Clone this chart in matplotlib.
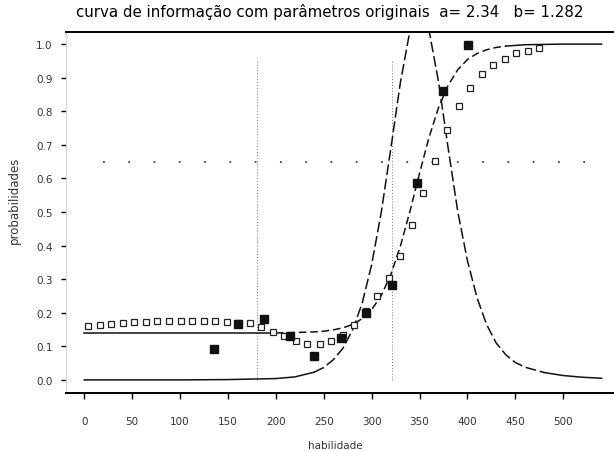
import numpy as np
import matplotlib
matplotlib.use("Agg")
from matplotlib import pyplot as plt

# open squares: observed proportions
obs_x = [4, 16, 28, 40, 52, 64, 76, 89, 101, 113, 125, 137, 149, 161, 173, 185, 197, 209, 221, 233,
         246, 258, 270, 282, 294, 306, 318, 330, 342, 354, 366, 379, 391, 403, 415, 427, 439, 451, 463, 475]
obs_y = [0.162, 0.165, 0.167, 0.170, 0.172, 0.173, 0.174, 0.174, 0.174, 0.174, 0.174, 0.174, 0.172, 0.170,
         0.168, 0.158, 0.143, 0.130, 0.115, 0.107, 0.108, 0.115, 0.133, 0.164, 0.205, 0.250, 0.303, 0.370,
         0.460, 0.558, 0.652, 0.745, 0.815, 0.868, 0.911, 0.937, 0.957, 0.972, 0.979, 0.987]

# filled squares
grp_x = [135, 161, 188, 215, 240, 268, 294, 321, 347, 374, 401]
grp_y = [0.092, 0.167, 0.182, 0.132, 0.071, 0.124, 0.199, 0.283, 0.586, 0.860, 0.997]

# item characteristic curve (a= 2.34, b= 1.282)
icc_x = [0, 100, 150, 200, 220, 240, 250, 260, 270, 280, 290, 300, 310, 320, 330, 340, 350, 360,
         370, 380, 390, 400, 410, 420, 430, 440, 460, 480, 500, 540]
icc_y = [0.140, 0.140, 0.140, 0.140, 0.141, 0.143, 0.145, 0.149, 0.155, 0.165, 0.182, 0.209, 0.251,
         0.313, 0.398, 0.502, 0.615, 0.723, 0.812, 0.878, 0.924, 0.954, 0.972, 0.983, 0.990, 0.994,
         0.998, 0.999, 1.000, 1.000]

# information curve
info_x = [0, 100, 150, 200, 220, 240, 250, 260, 270, 280, 290, 300, 310, 320, 330, 340, 345, 350,
          355, 360, 370, 380, 390, 400, 410, 420, 430, 440, 450, 460, 480, 500, 520, 540]
info_y = [0.000, 0.000, 0.001, 0.004, 0.009, 0.023, 0.037, 0.060, 0.094, 0.148, 0.227, 0.343, 0.498,
          0.688, 0.885, 1.040, 1.085, 1.100, 1.085, 1.040, 0.885, 0.688, 0.500, 0.355, 0.245, 0.165,
          0.110, 0.075, 0.052, 0.038, 0.022, 0.013, 0.008, 0.005]

vlines_x = [180, 321]
anchor_y = 0.65

x_ticks = [0, 50, 100, 150, 200, 250, 300, 350, 400, 450, 500]
y_ticks = [0.0, 0.1, 0.2, 0.3, 0.4, 0.5, 0.6, 0.7, 0.8, 0.9, 1.0]

title = "curva de informação com parâmetros originais  a= 2.34   b= 1.282"


def draw_curve(ax, xs, ys, lo, hi, dashes):
    # flat ends look solid in the original, the steep middle is dashed
    xs = np.array(xs)
    ys = np.array(ys)
    left = xs <= lo
    right = xs >= hi
    mid = (xs >= lo) & (xs <= hi)
    ax.plot(xs[left], ys[left], color="#111111", lw=1.1)
    ax.plot(xs[right], ys[right], color="#111111", lw=1.1)
    ax.plot(xs[mid], ys[mid], color="#111111", lw=1.1, dashes=dashes)


fig = plt.figure(figsize=(6.14, 4.52), dpi=100)
ax = fig.add_axes([0.1075, 0.1283, 0.8925, 0.7987])

ax.plot([vlines_x[0]] * 2, [0.0, 0.955], color="#777777", lw=0.7, ls=(0, (1, 2)))
ax.plot([vlines_x[1]] * 2, [0.0, 0.955], color="#777777", lw=0.7, ls=(0, (1, 2)))
ax.plot([20, 530], [anchor_y, anchor_y], color="#444444", lw=1.3, ls=(0, (1, 13)))

draw_curve(ax, info_x, info_y, 240, 480, (7, 2.5))
draw_curve(ax, icc_x, icc_y, 200, 440, (5, 2.5))

ax.plot(obs_x, obs_y, ls="none", marker="s", ms=5, mfc="white", mec="#222222", mew=0.9)
ax.plot(grp_x, grp_y, ls="none", marker="s", ms=6, mfc="#111111", mec="#111111")

ax.set_xlim(-19, 553)
ax.set_ylim(-0.039, 1.036)
ax.set_xticks(x_ticks)
ax.set_xticklabels([str(v) for v in x_ticks])
ax.set_yticks(y_ticks)
ax.set_yticklabels(["%.1f" % v for v in y_ticks])

ax.spines["right"].set_visible(False)
ax.spines["top"].set_linewidth(1.4)
ax.spines["bottom"].set_linewidth(1.4)
ax.spines["left"].set_color("#cccccc")
ax.spines["left"].set_linewidth(0.6)
ax.tick_params(axis="x", length=4.5, width=1.0, pad=12, labelsize=7.5, labelcolor="#333333")
ax.tick_params(axis="y", length=3.5, width=1.0, pad=6, labelsize=7.5, labelcolor="#333333")

fig.text(0.537, 0.973, title, ha="center", va="center", fontsize=10.8)
fig.text(0.546, 0.013, "habilidade", ha="center", va="center", fontsize=7.5, color="#333333")
fig.text(0.023, 0.557, "probabilidades", ha="center", va="center", rotation=90,
         fontsize=8.5, color="#333333")

fig.savefig("out.png", dpi=100)
